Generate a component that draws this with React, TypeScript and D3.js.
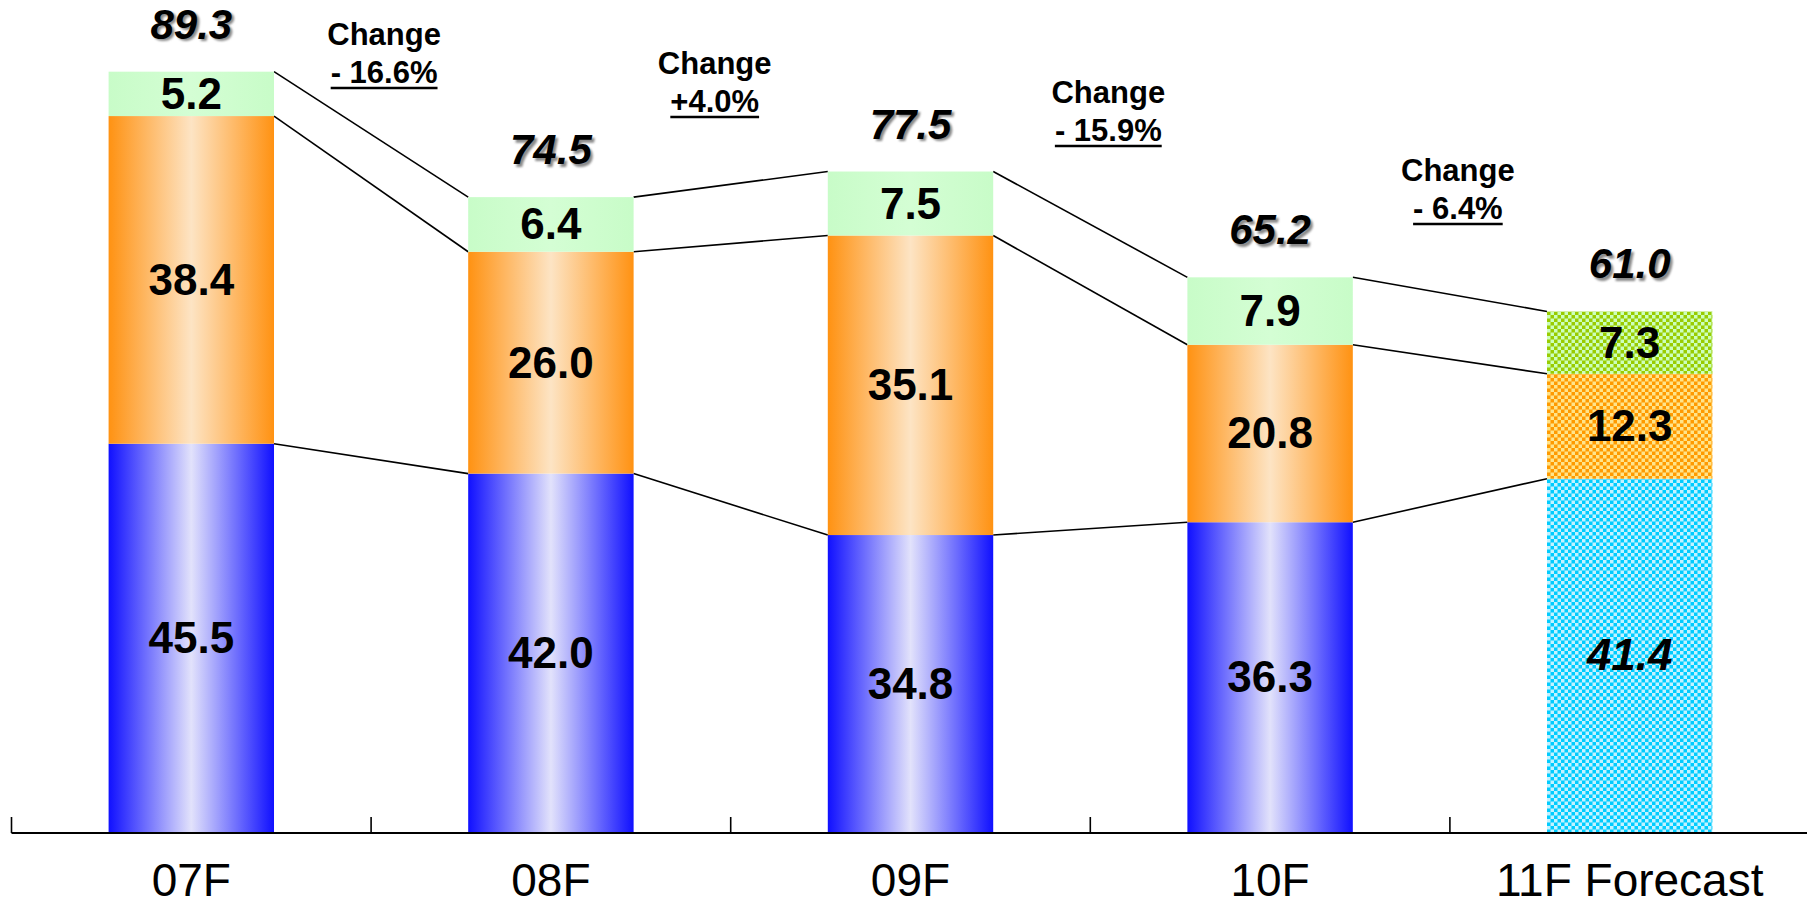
import { useEffect, useRef } from 'react'
import * as d3 from 'd3'

// Values
const categories = ['07F', '08F', '09F', '10F', '11F Forecast']
const blueValues = [45.5, 42.0, 34.8, 36.3, 41.4]
const orangeValues = [38.4, 26.0, 35.1, 20.8, 12.3]
const greenValues = [5.2, 6.4, 7.5, 7.9, 7.3]
const totals = [89.3, 74.5, 77.5, 65.2, 61.0]
const changeLabels = ['- 16.6%', '+4.0%', '- 15.9%', '- 6.4%']
const forecastIndex = 4

// layout only (offset from band boundary, baseline of "Change")
const changeDx = [13, -16, 18, 8]
const changeBaseline = [45, 74, 103, 181]

const W = 1807
const H = 907
const FONT = "'Liberation Sans', Arial, sans-serif"

export default function App() {
  const svgRef = useRef<SVGSVGElement>(null)

  useEffect(() => {
    if (!svgRef.current) return
    const svg = d3.select(svgRef.current)
    svg.selectAll('*').remove()

    const baseY = 832
    const x = d3.scaleBand<string>().domain(categories).range([11.5, 11.5 + 359.6 * 5]).padding(0)
    const y = d3.scaleLinear().domain([0, 97.5]).range([baseY, 0])
    const barW = x.bandwidth() * 0.46
    const barX = (i: number) => (x(categories[i]) as number) + (x.bandwidth() - barW) / 2

    const defs = svg.append('defs')
    const grad = (id: string, edge: string, mid: string) => {
      const g = defs.append('linearGradient').attr('id', id).attr('x1', 0).attr('x2', 1).attr('y1', 0).attr('y2', 0)
      g.append('stop').attr('offset', '0%').attr('stop-color', edge)
      g.append('stop').attr('offset', '50%').attr('stop-color', mid)
      g.append('stop').attr('offset', '100%').attr('stop-color', edge)
    }
    grad('gBlue', '#1010ff', '#e2e2fb')
    grad('gOrange', '#ff9212', '#fde4c4')
    grad('gGreen', '#c8fcc8', '#d4fed4')

    const blur = defs.append('filter').attr('id', 'soft')
    blur.append('feGaussianBlur').attr('stdDeviation', 1)

    const checker = (id: string, a: string, b: string) => {
      const p = defs.append('pattern').attr('id', id).attr('width', 7).attr('height', 7)
        .attr('patternUnits', 'userSpaceOnUse')
      p.append('rect').attr('width', 7).attr('height', 7).attr('fill', a)
      p.append('rect').attr('width', 3.5).attr('height', 3.5).attr('fill', b)
      p.append('rect').attr('x', 3.5).attr('y', 3.5).attr('width', 3.5).attr('height', 3.5).attr('fill', b)
    }
    checker('pBlue', '#00ccff', '#c4f2ff')
    checker('pOrange', '#ff9a00', '#ffe48a')
    checker('pGreen', '#99cc00', '#ccffbb')

    const layers = [
      { values: blueValues, fill: 'url(#gBlue)', pat: 'url(#pBlue)' },
      { values: orangeValues, fill: 'url(#gOrange)', pat: 'url(#pOrange)' },
      { values: greenValues, fill: 'url(#gGreen)', pat: 'url(#pGreen)' },
    ]

    // cumulative tops
    const stackTops = layers.map((_, li) =>
      categories.map((__, i) => layers.slice(0, li + 1).reduce((s, l) => s + l.values[i], 0))
    )

    // connector lines
    const lines = svg.append('g')
    stackTops.forEach((tops) => {
      for (let i = 0; i < categories.length - 1; i++) {
        lines.append('line')
          .attr('x1', barX(i) + barW).attr('y1', y(tops[i]))
          .attr('x2', barX(i + 1)).attr('y2', y(tops[i + 1]))
          .attr('stroke', '#000').attr('stroke-width', 1.6)
      }
    })

    // segments
    layers.forEach((layer, li) => {
      categories.forEach((_, i) => {
        const y0 = li === 0 ? 0 : stackTops[li - 1][i]
        const y1 = stackTops[li][i]
        svg.append('rect')
          .attr('x', barX(i)).attr('y', y(y1))
          .attr('width', barW).attr('height', y(y0) - y(y1))
          .attr('fill', i === forecastIndex ? layer.pat : layer.fill)
        svg.append('text')
          .attr('x', barX(i) + barW / 2)
          .attr('y', (y(y0) + y(y1)) / 2 + 15)
          .attr('text-anchor', 'middle')
          .attr('font-family', FONT)
          .attr('font-weight', 'bold')
          .attr('font-style', i === forecastIndex && li === 0 ? 'italic' : 'normal')
          .attr('font-size', 44)
          .attr('fill', '#000')
          .text(layer.values[i].toFixed(1))
      })
    })

    // totals with soft shadow
    totals.forEach((t, i) => {
      const top = stackTops[2][i]
      const ty = y(top) - 48 + 15
      ;[['#8a8a8a', 2.5, true], ['#000', 0, false]].forEach(([c, o, sh]) => {
        svg.append('text')
          .attr('x', barX(i) + barW / 2 + (o as number))
          .attr('y', ty + (o as number))
          .attr('text-anchor', 'middle')
          .attr('font-family', FONT)
          .attr('font-weight', 'bold')
          .attr('font-style', 'italic')
          .attr('font-size', 42)
          .attr('fill', c as string)
          .attr('filter', sh ? 'url(#soft)' : null)
          .text(t.toFixed(1))
      })
    })

    // change annotations
    changeLabels.forEach((lab, i) => {
      const cx = (x(categories[i + 1]) as number) + changeDx[i]
      const by = changeBaseline[i]
      svg.append('text')
        .attr('x', cx).attr('y', by)
        .attr('text-anchor', 'middle')
        .attr('font-family', FONT).attr('font-weight', 'bold').attr('font-size', 31)
        .text('Change')
      const t = svg.append('text')
        .attr('x', cx).attr('y', by + 38)
        .attr('text-anchor', 'middle')
        .attr('font-family', FONT).attr('font-weight', 'bold').attr('font-size', 31)
        .text(lab)
      const bb = (t.node() as SVGTextElement).getBBox()
      svg.append('line')
        .attr('x1', bb.x).attr('x2', bb.x + bb.width)
        .attr('y1', by + 38 + 5).attr('y2', by + 38 + 5)
        .attr('stroke', '#000').attr('stroke-width', 2.5)
    })

    // axis
    const axis = svg.append('g')
    axis.append('line')
      .attr('x1', 11.5).attr('x2', W).attr('y1', baseY + 1).attr('y2', baseY + 1)
      .attr('stroke', '#000').attr('stroke-width', 2)
    categories.forEach((c, i) => {
      const tx = x(c) as number
      axis.append('line')
        .attr('x1', tx).attr('x2', tx).attr('y1', baseY + 1).attr('y2', baseY - 15)
        .attr('stroke', '#000').attr('stroke-width', 1.6)
      axis.append('text')
        .attr('x', tx + x.bandwidth() / 2).attr('y', 896)
        .attr('text-anchor', 'middle')
        .attr('font-family', FONT).attr('font-size', 46)
        .attr('fill', '#000')
        .text(categories[i])
    })
  }, [])

  return (
    <svg
      ref={svgRef}
      width={W}
      height={H}
      style={{ position: 'absolute', left: 0, top: 0, background: '#fff', display: 'block' }}
    />
  )
}
